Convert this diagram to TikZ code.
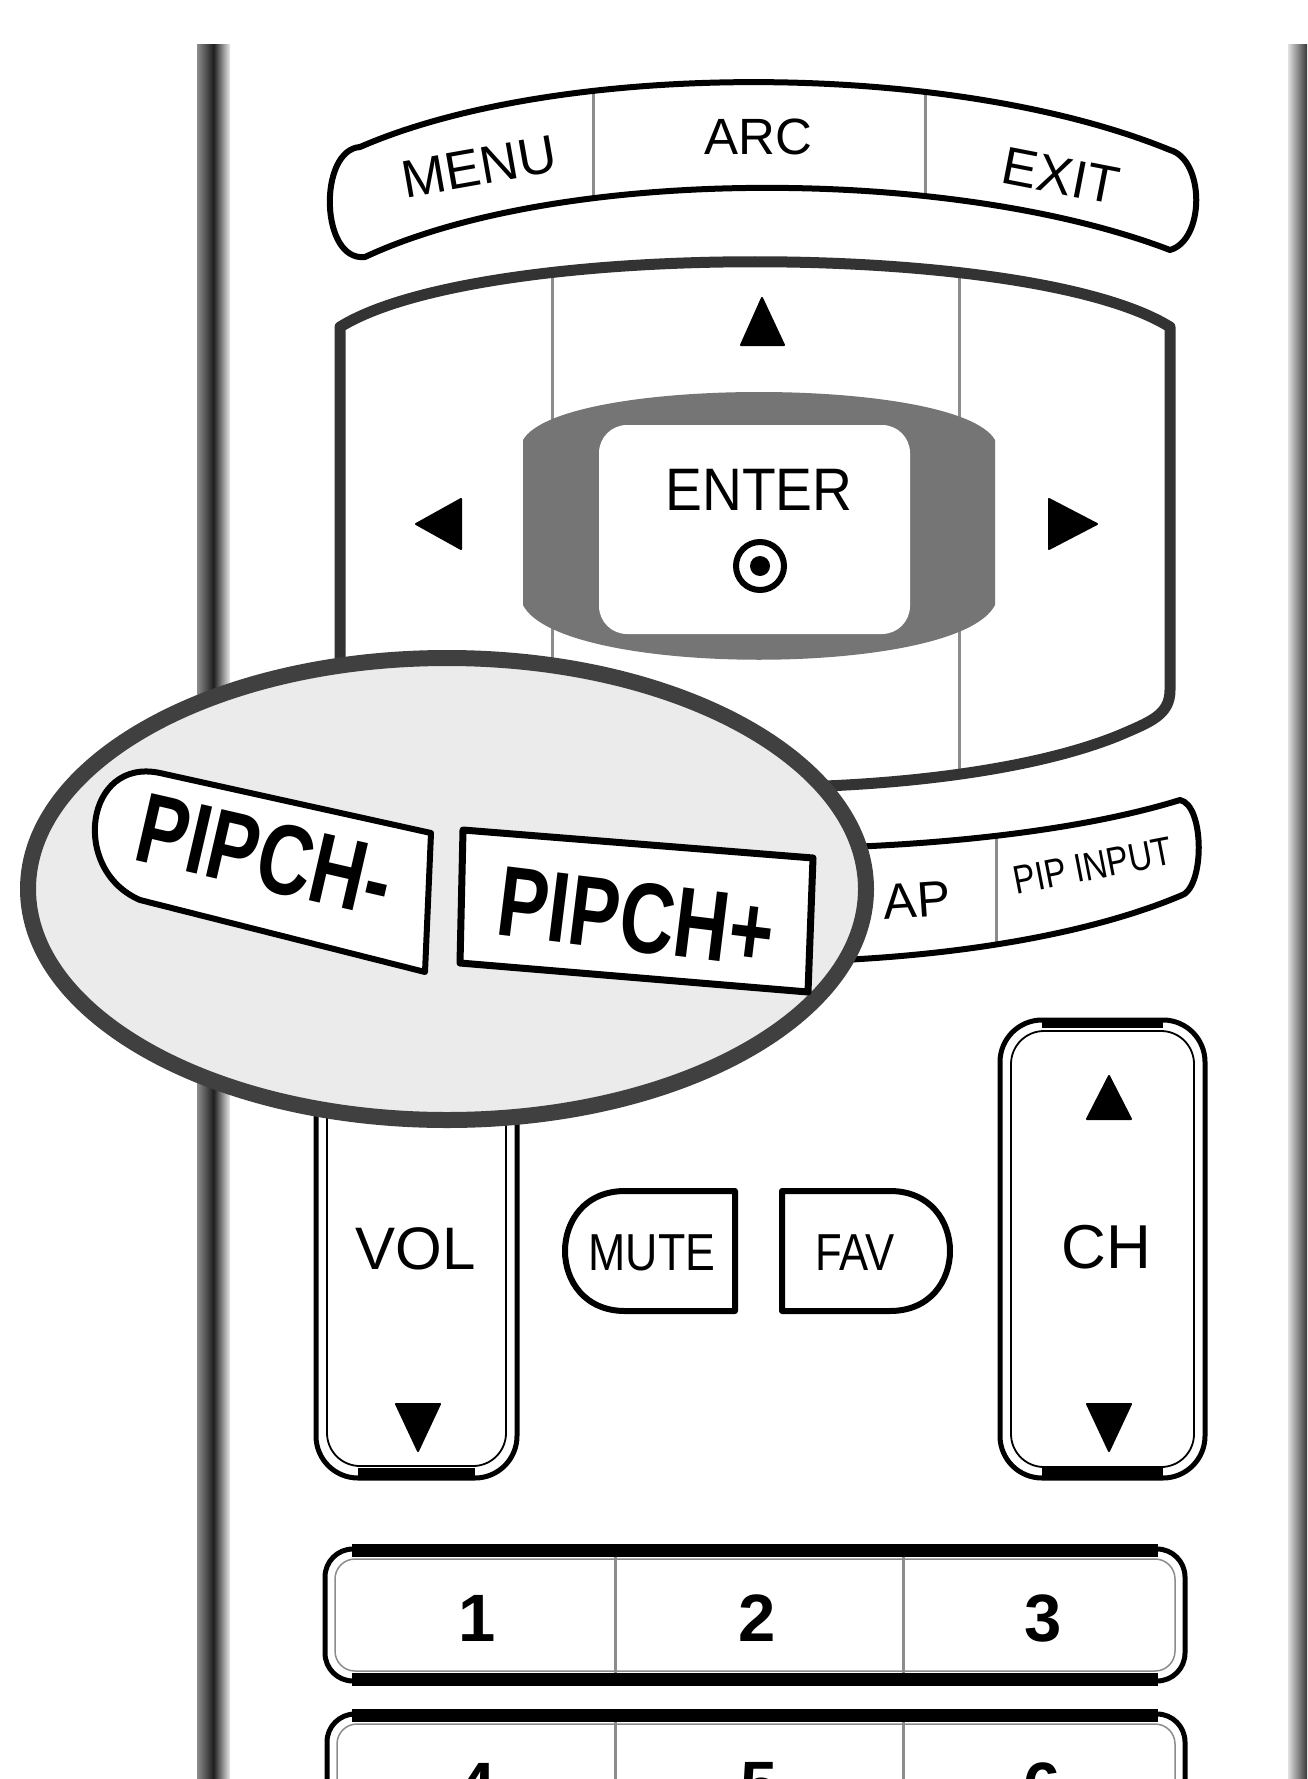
\documentclass[tikz,border=0pt]{standalone}
\usepackage{fontspec}
\setmainfont{Liberation Sans}
\tikzset{
  lbl/.style={inner sep=0pt, text=black},
  keyline/.style={line width=6pt, draw=black, fill=white, line join=round},
  divline/.style={line width=3pt, draw=black!45},
  tri/.style={fill=black, draw=black, line width=2pt, line join=round},
  dblouter/.style={line width=5pt, draw=black, rounded corners=42pt},
  dblinner/.style={line width=1.8pt, draw=black, rounded corners=33pt},
}
\newcommand{\fs}[1]{\fontsize{#1}{#1}\selectfont}
\newcommand{\nar}[2]{\scalebox{#1}[1]{#2}}
\begin{document}
\begin{tikzpicture}[x=1pt,y=-1pt]
\useasboundingbox (0,0) rectangle (1307,1779);
\fill[white] (0,0) rectangle (1307,1779);
\clip (0,0) rectangle (1307,1779);

% side bars of the remote body
\shade[left color=black!45, right color=black!8, middle color=black!88] (197,45) rectangle (230,1779);
\shade[left color=black!12, right color=black!78] (1288,45) rectangle (1307,1779);

% ---------- MENU / ARC / EXIT row ----------
\fill[white] (360,147) .. controls (560,60) and (950,60) .. (1170,150) .. controls (1205,160) and (1205,240) .. (1170,250) .. controls (950,166) and (560,166) .. (365,257) .. controls (320,262) and (318,150) .. cycle;
\begin{scope}
\clip (360,147) .. controls (560,60) and (950,60) .. (1170,150) .. controls (1205,160) and (1205,240) .. (1170,250) .. controls (950,166) and (560,166) .. (365,257) .. controls (320,262) and (318,150) .. cycle;
\draw[divline] (593,60) -- (593,260);
\draw[divline] (925,60) -- (925,260);
\end{scope}
\draw[line width=6pt, line join=round] (360,147) .. controls (560,60) and (950,60) .. (1170,150) .. controls (1205,160) and (1205,240) .. (1170,250) .. controls (950,166) and (560,166) .. (365,257) .. controls (320,262) and (318,150) .. cycle;
\node[lbl, rotate=10] (menu) at (479,167) {\fs{53}MENU};
\node[lbl] (arc) at (758,137) {\fs{51}ARC};
\node[lbl, rotate=-11] (exit) at (1061,176) {\fs{53}EXIT};

% ---------- D-pad ----------
\fill[white] (340,327) .. controls (480,240) and (1030,240) .. (1170,327) -- (1170,690) .. controls (1170,715) and (1150,722) .. (1120,735) .. controls (950,805) and (560,805) .. (390,735) .. controls (360,722) and (340,715) .. (340,690) -- cycle;
\begin{scope}
\clip (340,327) .. controls (480,240) and (1030,240) .. (1170,327) -- (1170,690) .. controls (1170,715) and (1150,722) .. (1120,735) .. controls (950,805) and (560,805) .. (390,735) .. controls (360,722) and (340,715) .. (340,690) -- cycle;
\draw[divline] (552,200) -- (552,850);
\draw[divline] (959,200) -- (959,850);
\end{scope}
\fill[black!54] (523,440) .. controls (560,376) and (958,376) .. (995,440) -- (995,605) .. controls (958,678) and (560,678) .. (523,605) -- cycle;
\fill[white, rounded corners=28pt] (599,425) rectangle (910,634);
\node[lbl] (enter) at (759,490) {\fs{60}\nar{0.92}{ENTER}};
\draw[line width=6pt] (760,566) circle [radius=24pt];
\fill (760,566) circle [radius=10pt];
\draw[tri] (762,298) -- (741,345) -- (784,345) -- cycle;
\draw[tri] (416,524) -- (461,499) -- (461,549) -- cycle;
\draw[tri] (1097,524) -- (1049,499) -- (1049,549) -- cycle;
\draw[line width=11pt, draw=black!80, line join=round] (340,327) .. controls (480,240) and (1030,240) .. (1170,327) -- (1170,690) .. controls (1170,715) and (1150,722) .. (1120,735) .. controls (950,805) and (560,805) .. (390,735) .. controls (360,722) and (340,715) .. (340,690) -- cycle;

% ---------- SWAP / PIP INPUT row ----------
\fill[white] (340,800) .. controls (550,865) and (970,865) .. (1180,800) .. controls (1205,805) and (1205,890) .. (1180,896) .. controls (970,984) and (550,984) .. (340,896) .. controls (315,890) and (315,805) .. cycle;
\begin{scope}
\clip (340,800) .. controls (550,865) and (970,865) .. (1180,800) .. controls (1205,805) and (1205,890) .. (1180,896) .. controls (970,984) and (550,984) .. (340,896) .. controls (315,890) and (315,805) .. cycle;
\draw[divline] (996,780) -- (996,990);
\end{scope}
\draw[line width=6pt, line join=round] (340,800) .. controls (550,865) and (970,865) .. (1180,800) .. controls (1205,805) and (1205,890) .. (1180,896) .. controls (970,984) and (550,984) .. (340,896) .. controls (315,890) and (315,805) .. cycle;
\node[lbl, rotate=4] (swap) at (917,900) {\fs{50}AP};
\node[lbl, rotate=11] (pipinput) at (1093,866) {\fs{40}\nar{0.82}{PIP INPUT}};

% ---------- VOL ----------
\draw[dblouter] (316,1000) rectangle (517,1478);
\draw[dblinner] (327,1000) rectangle (506,1466);
\draw[line width=12pt] (358,1474) -- (475,1474);
\node[lbl] (vol) at (416,1249) {\fs{60}VOL};
\draw[tri] (396,1404) -- (440,1404) -- (418,1451) -- cycle;

% ---------- CH ----------
\draw[dblouter] (1000,1020) rectangle (1205,1478);
\draw[dblinner] (1011,1031) rectangle (1194,1467);
\draw[line width=10pt] (1042,1023) -- (1163,1023);
\draw[line width=12pt] (1042,1474) -- (1163,1474);
\node[lbl] (ch) at (1106,1247) {\fs{62}CH};
\draw[tri] (1087,1119) -- (1131,1119) -- (1109,1076) -- cycle;
\draw[tri] (1087,1404) -- (1131,1404) -- (1109,1451) -- cycle;

% ---------- MUTE / FAV ----------
\draw[keyline] (735,1191) -- (625,1191) .. controls (545,1191) and (545,1311) .. (625,1311) -- (735,1311) -- cycle;
\node[lbl] (mute) at (652,1253) {\fs{52}\nar{0.86}{MUTE}};
\draw[keyline] (782,1191) -- (890,1191) .. controls (970,1191) and (970,1311) .. (890,1311) -- (782,1311) -- cycle;
\node[lbl] (fav) at (855,1253) {\fs{52}\nar{0.84}{FAV}};

% ---------- number rows ----------
\draw[line width=5pt, rounded corners=28pt] (325,1549) rectangle (1185,1681);
\draw[black!45, line width=1.5pt, rounded corners=20pt] (335,1559) rectangle (1175,1671);
\fill (352,1544) rectangle (1158,1557);
\fill (352,1673) rectangle (1158,1686);
\draw[divline] (615,1557) -- (615,1673);
\draw[divline] (903,1557) -- (903,1673);
\node[lbl] (n1) at (477,1618) {\fs{67}\bfseries 1};
\node[lbl] (n2) at (757,1618) {\fs{67}\bfseries 2};
\node[lbl] (n3) at (1043,1618) {\fs{67}\bfseries 3};

\draw[line width=5pt, rounded corners=28pt] (327,1714) rectangle (1185,1900);
\draw[black!45, line width=1.5pt, rounded corners=20pt] (337,1724) rectangle (1175,1890);
\fill (352,1709) rectangle (1158,1722);
\draw[divline] (615,1722) -- (615,1800);
\draw[divline] (903,1722) -- (903,1800);
\node[lbl] (n4) at (477,1786) {\fs{67}\bfseries 4};
\node[lbl] (n5) at (759,1786) {\fs{67}\bfseries 5};
\node[lbl] (n6) at (1042,1786) {\fs{67}\bfseries 6};

% ---------- magnifier ----------
\draw[line width=16pt, draw=black!75, fill=black!8] (447,889) ellipse [x radius=419pt, y radius=231pt];
\draw[keyline] (431,833) -- (425,972) -- (140,900) .. controls (70,870) and (85,757) .. (160,773) -- cycle;
\node[lbl, rotate=-13] (pipchm) at (265,855) {\fs{100}\bfseries\nar{0.76}{PIPCH-}};
\draw[keyline, line width=7pt] (463,830) -- (813,858) -- (808,992) -- (460,963) -- cycle;
\node[lbl, rotate=-7] (pipchp) at (636,917) {\fs{100}\bfseries\nar{0.76}{PIPCH+}};
\end{tikzpicture}
\end{document}
